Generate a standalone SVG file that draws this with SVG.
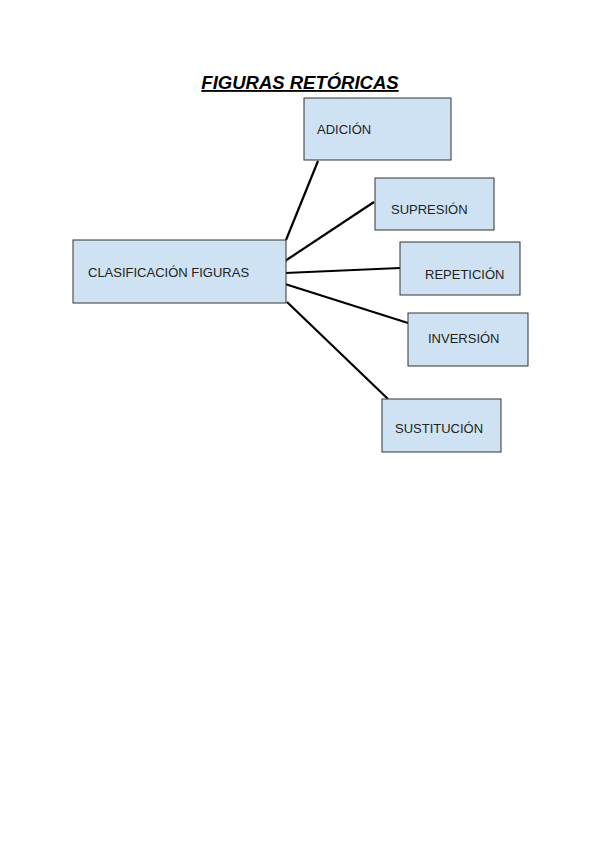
<svg xmlns="http://www.w3.org/2000/svg" width="600" height="848" viewBox="0 0 600 848">
<style>
.box{fill:#cfe2f3;stroke:#333;stroke-width:1}
.lbl{font-family:"Liberation Sans",Arial,sans-serif;font-size:13px;fill:#222}
.con{stroke:#000;stroke-width:2.2;fill:none}
</style>
<rect width="600" height="848" fill="#fff"/>
<text x="300" y="89" text-anchor="middle" font-family="Liberation Sans,Arial,sans-serif" font-size="18.5" font-weight="bold" font-style="italic" text-decoration="underline" fill="#000"> FIGURAS RETÓRICAS</text>
<g id="connectors">
<line class="con" x1="286" y1="240" x2="318" y2="161"/>
<line class="con" x1="285" y1="261" x2="374" y2="202"/>
<line class="con" x1="285" y1="273" x2="400" y2="268"/>
<line class="con" x1="285" y1="284" x2="408" y2="323"/>
<line class="con" x1="287" y1="302" x2="388" y2="399"/>
</g>
<g id="n-adicion"><rect class="box" x="304" y="98" width="147" height="62"/><text class="lbl" x="317" y="134">ADICIÓN</text></g>
<g id="n-supresion"><rect class="box" x="375" y="178" width="119" height="52"/><text class="lbl" x="391" y="214">SUPRESIÓN</text></g>
<g id="n-clasificacion"><rect class="box" x="73" y="240" width="213" height="63"/><text class="lbl" x="88" y="277">CLASIFICACIÓN FIGURAS</text></g>
<g id="n-repeticion"><rect class="box" x="400" y="242" width="120" height="53"/><text class="lbl" x="425" y="279">REPETICIÓN</text></g>
<g id="n-inversion"><rect class="box" x="408" y="313" width="120" height="53"/><text class="lbl" x="428" y="343">INVERSIÓN</text></g>
<g id="n-sustitucion"><rect class="box" x="382" y="399" width="119" height="53"/><text class="lbl" x="395" y="433">SUSTITUCIÓN</text></g>
</svg>
